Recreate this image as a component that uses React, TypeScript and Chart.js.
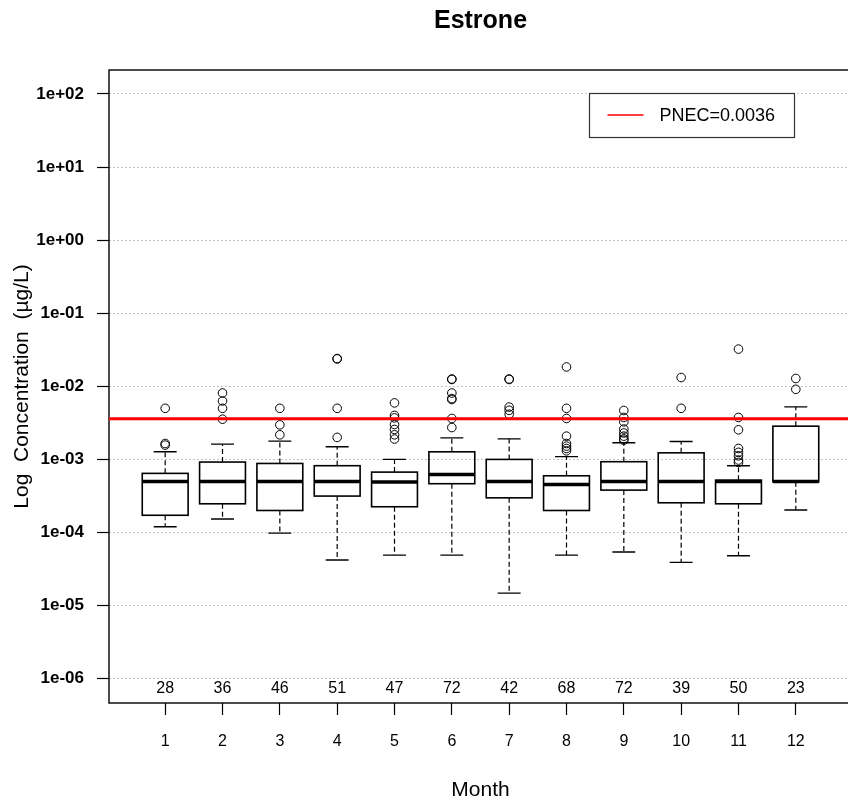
import React, { useEffect, useRef } from 'react';
import { Chart, registerables } from 'chart.js';

Chart.register(...registerables);

const FONT = '"Liberation Sans", Arial, Helvetica, sans-serif';

const chartTitle = 'Estrone';
const xAxisTitle = 'Month';
const yAxisTitle = 'Log  Concentration  (µg/L)';
const legendLabel = 'PNEC=0.0036';
const pnec = 0.0036;
const pnecColor = '#ff0000';

const months = ['1', '2', '3', '4', '5', '6', '7', '8', '9', '10', '11', '12'];
const counts = [28, 36, 46, 51, 47, 72, 42, 68, 72, 39, 50, 23];

const whiskerLow = [1.2e-4, 1.53e-4, 9.8e-5, 4.2e-5, 4.9e-5, 4.9e-5, 1.48e-5, 4.9e-5, 5.4e-5, 3.9e-5, 4.8e-5, 2.03e-4];
const q1 = [1.72e-4, 2.47e-4, 2.0e-4, 3.15e-4, 2.25e-4, 4.65e-4, 2.98e-4, 2.0e-4, 3.8e-4, 2.55e-4, 2.47e-4, 4.95e-4];
const medians = [5e-4, 5e-4, 5e-4, 5e-4, 4.9e-4, 6.2e-4, 5e-4, 4.55e-4, 5e-4, 5e-4, 5e-4, 5e-4];
const q3 = [6.44e-4, 9.2e-4, 8.8e-4, 8.2e-4, 6.7e-4, 1.27e-3, 1.0e-3, 5.97e-4, 9.3e-4, 1.23e-3, 5.2e-4, 2.85e-3];
const whiskerHigh = [1.27e-3, 1.62e-3, 1.78e-3, 1.49e-3, 1.0e-3, 1.97e-3, 1.91e-3, 1.09e-3, 1.69e-3, 1.76e-3, 8.2e-4, 5.24e-3];

const outliers: number[][] = [
  [1.65e-3, 1.57e-3, 5.0e-3],
  [8.1e-3, 6.3e-3, 5.0e-3, 3.55e-3],
  [5.0e-3, 2.97e-3, 2.17e-3],
  [0.0237, 0.024, 5.0e-3, 2.0e-3],
  [5.93e-3, 4.0e-3, 3.7e-3, 3.0e-3, 2.57e-3, 2.17e-3, 1.9e-3],
  [0.0124, 0.0126, 8.1e-3, 6.8e-3, 6.6e-3, 3.63e-3, 2.73e-3],
  [0.0124, 0.0126, 5.2e-3, 4.7e-3, 4.15e-3],
  [0.0184, 5.0e-3, 3.63e-3, 2.08e-3, 1.65e-3, 1.52e-3, 1.41e-3, 1.31e-3],
  [4.67e-3, 3.75e-3, 3.27e-3, 2.6e-3, 2.3e-3, 2.08e-3, 1.91e-3, 1.83e-3],
  [0.0132, 5.0e-3],
  [0.0323, 3.75e-3, 2.54e-3, 1.41e-3, 1.25e-3, 1.12e-3, 9.8e-4, 9.1e-4],
  [0.0128, 9.1e-3],
];

const yTickExponents = [-6, -5, -4, -3, -2, -1, 0, 1, 2];
const yMinExp = -6.333;
const yMaxExp = 2.328;
const xMin = 0.02;
const xMax = 12.98;

function formatExp(v: number): string {
  const e = Math.round(Math.log10(v));
  const a = Math.abs(e);
  return '1e' + (e < 0 ? '-' : '+') + (a < 10 ? '0' + a : String(a));
}

const boxPlugin = {
  id: 'boxes',
  beforeDatasetsDraw(chart: any) {
    const { ctx, chartArea, scales } = chart;
    const x = scales.x;
    const y = scales.y;
    const unit = x.getPixelForValue(2) - x.getPixelForValue(1);
    const half = unit * 0.4;
    const capHalf = half * 0.5;
    ctx.save();
    ctx.strokeStyle = '#000';
    months.forEach((_, i) => {
      const cx = x.getPixelForValue(i + 1);
      const yLo = y.getPixelForValue(whiskerLow[i]);
      const yQ1 = y.getPixelForValue(q1[i]);
      const yMed = y.getPixelForValue(medians[i]);
      const yQ3 = y.getPixelForValue(q3[i]);
      const yHi = y.getPixelForValue(whiskerHigh[i]);
      // whiskers
      ctx.lineWidth = 1.2;
      ctx.setLineDash([5, 3]);
      ctx.beginPath();
      ctx.moveTo(cx, yQ3);
      ctx.lineTo(cx, yHi);
      ctx.moveTo(cx, yQ1);
      ctx.lineTo(cx, yLo);
      ctx.stroke();
      ctx.setLineDash([]);
      // caps
      ctx.lineWidth = 1.4;
      ctx.beginPath();
      ctx.moveTo(cx - capHalf, yHi);
      ctx.lineTo(cx + capHalf, yHi);
      ctx.moveTo(cx - capHalf, yLo);
      ctx.lineTo(cx + capHalf, yLo);
      ctx.stroke();
      // box
      ctx.lineWidth = 1.6;
      ctx.strokeRect(cx - half, yQ3, half * 2, yQ1 - yQ3);
      // median
      ctx.lineWidth = 3.5;
      ctx.beginPath();
      ctx.moveTo(cx - half, yMed);
      ctx.lineTo(cx + half, yMed);
      ctx.stroke();
    });
    // frame
    ctx.lineWidth = 1.4;
    ctx.strokeRect(chartArea.left, chartArea.top, chartArea.right - chartArea.left, chartArea.bottom - chartArea.top);
    // counts
    ctx.fillStyle = '#000';
    ctx.font = `16px ${FONT}`;
    ctx.textAlign = 'center';
    ctx.textBaseline = 'middle';
    counts.forEach((n, i) => {
      ctx.fillText(String(n), x.getPixelForValue(i + 1), chartArea.bottom - 14);
    });
    ctx.restore();
  },
  afterDraw(chart: any) {
    const { ctx, chartArea } = chart;
    ctx.save();
    // title
    ctx.fillStyle = '#000';
    ctx.font = `bold 25px ${FONT}`;
    ctx.textAlign = 'center';
    ctx.textBaseline = 'middle';
    ctx.fillText(chartTitle, (chartArea.left + chartArea.right) / 2, 21);
    // legend
    const lx = Math.round(chartArea.right - 263) + 0.5;
    const ly = Math.round(chartArea.top + 23) + 0.5;
    const lw = 205;
    const lh = 44;
    ctx.fillStyle = '#fff';
    ctx.fillRect(lx, ly, lw, lh);
    ctx.strokeStyle = '#333';
    ctx.lineWidth = 1.2;
    ctx.strokeRect(lx, ly, lw, lh);
    ctx.strokeStyle = pnecColor;
    ctx.lineWidth = 1.5;
    ctx.beginPath();
    ctx.moveTo(lx + 18, ly + lh / 2 - 0.5);
    ctx.lineTo(lx + 54, ly + lh / 2 - 0.5);
    ctx.stroke();
    ctx.fillStyle = '#000';
    ctx.font = `18px ${FONT}`;
    ctx.textAlign = 'left';
    ctx.fillText(legendLabel, lx + 70, ly + lh / 2 + 1);
    ctx.restore();
  },
};

export default function App() {
  const ref = useRef<HTMLCanvasElement>(null);
  useEffect(() => {
    const outlierPoints = outliers.flatMap((arr, i) => arr.map((v) => ({ x: i + 1, y: v })));
    const chart = new Chart(ref.current as HTMLCanvasElement, {
      type: 'scatter',
      data: {
        datasets: [
          {
            type: 'line',
            label: legendLabel,
            data: [
              { x: xMin, y: pnec },
              { x: xMax, y: pnec },
            ],
            borderColor: pnecColor,
            borderWidth: 3,
            pointRadius: 0,
            fill: false,
          } as any,
          {
            type: 'scatter',
            label: 'outliers',
            data: outlierPoints,
            pointRadius: 4.3,
            pointStyle: 'circle',
            borderColor: '#000',
            backgroundColor: 'rgba(0,0,0,0)',
            borderWidth: 1,
          },
        ],
      },
      options: {
        responsive: false,
        devicePixelRatio: 1,
        animation: false,
        layout: { padding: { top: 70, right: 18, left: 0, bottom: 0 } },
        plugins: {
          legend: { display: false },
          tooltip: { enabled: false },
          title: { display: false },
        },
        scales: {
          x: {
            type: 'linear',
            position: 'bottom',
            min: xMin,
            max: xMax,
            afterBuildTicks: (s: any) => {
              s.ticks = months.map((_, i) => ({ value: i + 1 }));
            },
            afterFit: (s: any) => {
              s.height = 102;
            },
            ticks: {
              autoSkip: false,
              maxRotation: 0,
              color: '#000',
              font: { family: FONT, size: 16 },
              padding: 17,
              callback: (v: any) => months[Math.round(Number(v)) - 1],
            },
            grid: {
              drawOnChartArea: false,
              drawTicks: true,
              tickLength: 12,
              tickColor: '#000',
              tickWidth: 1.2,
            },
            border: { display: false },
            title: {
              display: true,
              text: xAxisTitle,
              color: '#000',
              font: { family: FONT, size: 21 },
              padding: { top: 0, bottom: 2 },
            },
          },
          y: {
            type: 'logarithmic',
            min: Math.pow(10, yMinExp),
            max: Math.pow(10, yMaxExp),
            afterBuildTicks: (s: any) => {
              s.ticks = yTickExponents.map((e) => ({ value: Math.pow(10, e) }));
            },
            afterFit: (s: any) => {
              s.width = 109;
            },
            ticks: {
              autoSkip: false,
              color: '#000',
              font: { family: FONT, size: 17, weight: 'bold' },
              padding: 13,
              callback: (v: any) => formatExp(Number(v)),
            },
            grid: {
              color: '#c4c4c4',
              lineWidth: 1,
              drawTicks: true,
              tickLength: 12,
              tickColor: '#000',
              tickWidth: 1.2,
            },
            border: { display: false, dash: [2, 2] },
            title: {
              display: true,
              text: yAxisTitle,
              color: '#000',
              font: { family: FONT, size: 21 },
              padding: { top: 10, bottom: 0 },
            },
          },
        },
      } as any,
      plugins: [boxPlugin],
    });
    return () => chart.destroy();
  }, []);
  return (
    <div
      style={{
        position: 'absolute',
        left: 0,
        top: 0,
        width: 848,
        height: 805,
        overflow: 'hidden',
        background: '#fff',
      }}
    >
      <canvas ref={ref} width={870} height={805} style={{ display: 'block', width: 870, height: 805 }} />
    </div>
  );
}
